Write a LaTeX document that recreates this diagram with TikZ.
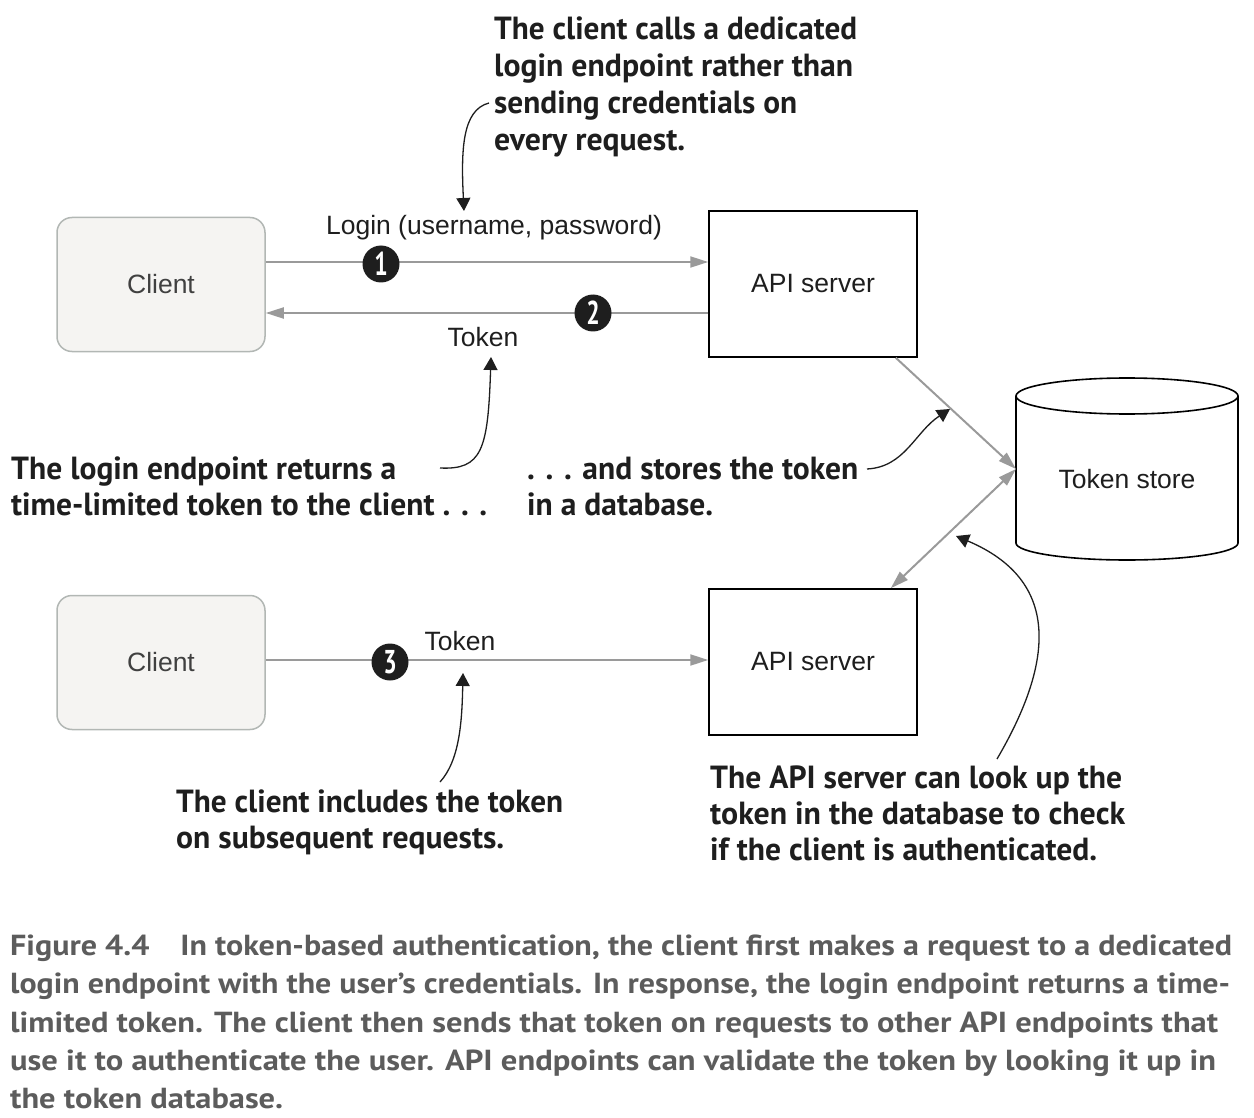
\documentclass[tikz,border=0pt]{standalone}
\usepackage{fontspec}
\usepackage{graphicx}
\setmainfont{Liberation Sans}
\newfontfamily\callfont{PT Sans}
\usetikzlibrary{arrows.meta,calc}
\definecolor{garr}{HTML}{9A9A9A}
\definecolor{cfill}{HTML}{F5F4F2}
\definecolor{cdraw}{HTML}{B2B7B4}
\definecolor{ink}{HTML}{1E1E1E}
\definecolor{capgray}{HTML}{5C5C5C}
\newsavebox\fitbox
\newdimen\fitdim
\newcommand\fitw[2]{\sbox\fitbox{#2}\fitdim=\wd\fitbox\pgfmathsetmacro\fitratio{#1/\the\fitdim}\scalebox{\fitratio}[1]{\usebox\fitbox}}
\tikzset{
  clientbox/.style={draw=cdraw, fill=cfill, line width=1.5pt, rounded corners=15pt, minimum width=208pt, minimum height=134pt, text=black!75, font=\fontsize{26.5}{30}\selectfont},
  apibox/.style={draw=black, fill=white, line width=1.5pt, minimum width=208pt, minimum height=146pt, text=ink, font=\fontsize{26.5}{30}\selectfont},
  lbl/.style={inner sep=0pt, anchor=base, text=ink, font=\fontsize{26.5}{30}\selectfont},
  garrow/.style={draw=garr, line width=2pt, -{Triangle[length=18pt,width=11pt]}},
  gdarrow/.style={draw=garr, line width=2pt, {Triangle[length=18pt,width=11pt]}-{Triangle[length=18pt,width=11pt]}},
  carrow/.style={draw=ink, line width=1.3pt, -{Triangle[length=13pt,width=14pt]}},
  num/.style={circle, fill=ink, text=white, minimum size=37pt, inner sep=0pt, font=\callfont\bfseries\fontsize{33}{33}\selectfont},
  call/.style={inner sep=0pt, anchor=base west, text=ink, font=\callfont\bfseries\fontsize{32}{37}\selectfont},
  captext/.style={inner sep=0pt, anchor=base west, text=capgray, font=\callfont\bfseries\fontsize{29}{38}\selectfont},
}
\begin{document}
\begin{tikzpicture}[x=1pt, y=-1pt]
\useasboundingbox (0,0) rectangle (1254,1118);

% boxes
\node[clientbox] (c1) at (161,284.5) {Client};
\node[apibox] (api1) at (813,284) {API server};
\node[clientbox] (c2) at (161,662.5) {Client};
\node[apibox] (api2) at (813,662) {API server};

% token store cylinder
\draw[line width=1.6pt, fill=white] (1016,396) -- (1016,543) arc[start angle=180, end angle=360, x radius=111pt, y radius=17pt] -- (1238,396);
\draw[line width=1.6pt, fill=white] (1127,396) ellipse[x radius=111pt, y radius=18pt];
\node[lbl] (store) at (1127,488) {Token store};
\coordinate (sw) at (1016,469);

% flow arrows
\draw[garrow] (c1.east |- 0,262) -- (api1.west |- 0,262);
\draw[garrow] (api1.west |- 0,313) -- (c1.east |- 0,313);
\draw[garrow] (c2.east |- 0,660) -- (api2.west |- 0,660);
\draw[garrow] ($(api1.south east)+(-22,0)$) -- (sw);
\draw[gdarrow] (sw) -- ($(api2.north east)+(-27,0)$);

\node[num] (n1) at (381,264) {\scalebox{0.72}[1]{1}};
\node[num] (n2) at (593,313) {\scalebox{0.72}[1]{2}};
\node[num] (n3) at (390,662) {\scalebox{0.72}[1]{3}};

\node[lbl] (l1) at (494,235) {Login (username, password)};
\node[lbl] (l2) at (483,346) {Token};
\node[lbl] (l3) at (460,650) {Token};

% callout texts
\node[call] (a1) at (494,40) {\fitw{363}{The client calls a dedicated}};
\node[call] (a2) at (494,77) {\fitw{359}{login endpoint rather than}};
\node[call] (a3) at (494,114) {\fitw{303}{sending credentials on}};
\node[call] (a4) at (494,151) {\fitw{191}{every request.}};

\node[call] (b1) at (11,479) {\fitw{385}{The login endpoint returns a}};
\node[call] (b2) at (11,515) {\fitw{476}{time-limited token to the client . . .}};

\node[call] (d1) at (527,479) {\fitw{331}{. . . and stores the token}};
\node[call] (d2) at (527,515) {\fitw{186}{in a database.}};

\node[call] (e1) at (176,812) {\fitw{387}{The client includes the token}};
\node[call] (e2) at (176,848) {\fitw{328}{on subsequent requests.}};

\node[call] (f1) at (710,788) {\fitw{412}{The API server can look up the}};
\node[call] (f2) at (710,824) {\fitw{415}{token in the database to check}};
\node[call] (f3) at (710,860) {\fitw{387}{if the client is authenticated.}};

% callout arrows
\coordinate (ca1) at (489,103);
\coordinate (ta1) at (464,211);
\draw[carrow] (ca1) .. controls (462,110) and (461,150) .. (ta1);
\coordinate (cb1) at (440,468);
\coordinate (tb1) at (491,357);
\draw[carrow] (cb1) .. controls (482,470) and (488,450) .. (tb1);
\coordinate (cd1) at (867,469);
\coordinate (td1) at (950,409);
\draw[carrow] (cd1) .. controls (905,467) and (915,432) .. (td1);
\coordinate (ce1) at (440,782);
\coordinate (te1) at (463,673);
\draw[carrow] (ce1) .. controls (460,760) and (462,720) .. (te1);
\coordinate (cf1) at (997,759);
\coordinate (tf1) at (956,536);
\draw[carrow] (cf1) .. controls (1055,660) and (1060,580) .. (tf1);

% caption
\node[captext] (k1) at (10,955) {\fitw{1222}{Figure 4.4\hspace{28pt}In token-based authentication, the client first makes a request to a dedicated}};
\node[captext] (k2) at (10,993) {\fitw{1220}{login endpoint with the user’s credentials. In response, the login endpoint returns a time-}};
\node[captext] (k3) at (10,1032) {\fitw{1208}{limited token. The client then sends that token on requests to other API endpoints that}};
\node[captext] (k4) at (10,1070) {\fitw{1206}{use it to authenticate the user. API endpoints can validate the token by looking it up in}};
\node[captext] (k5) at (10,1108) {\fitw{273}{the token database.}};
\end{tikzpicture}
\end{document}
